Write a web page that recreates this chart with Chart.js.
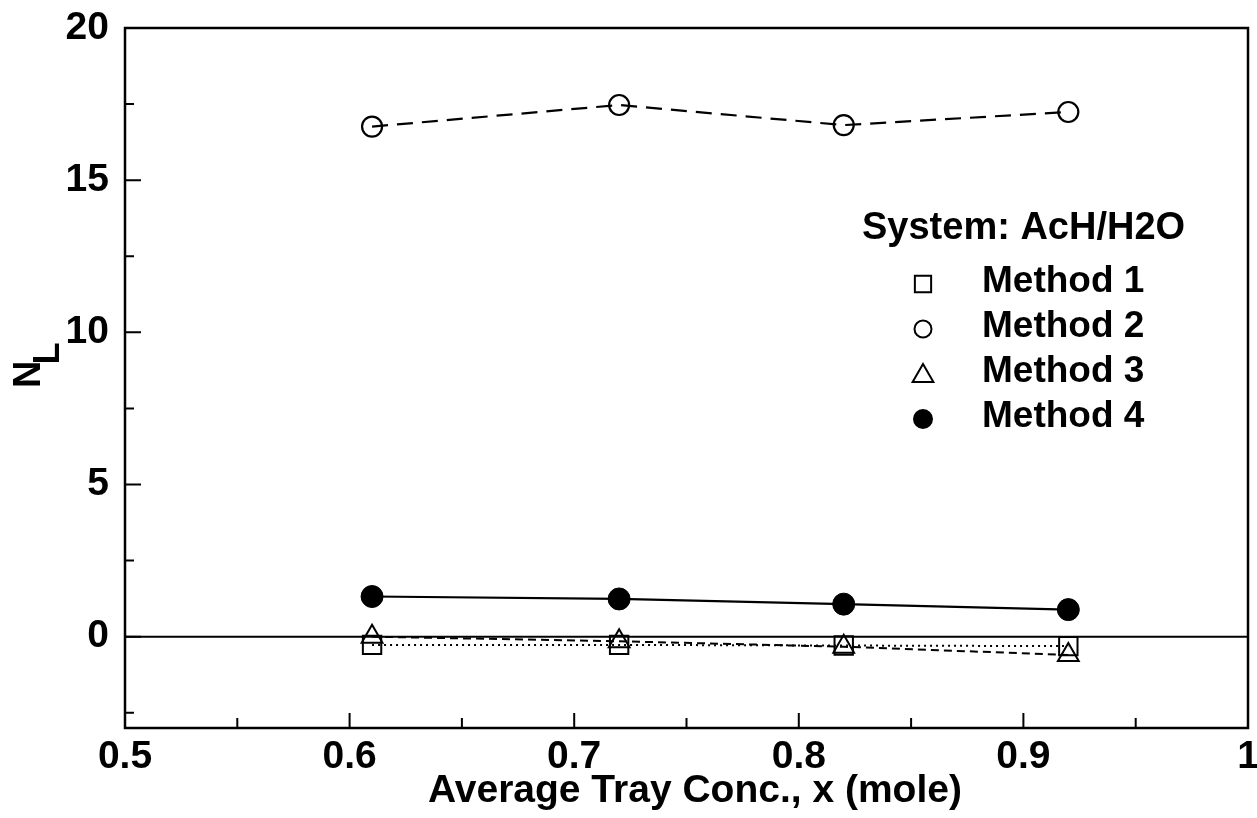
<!DOCTYPE html>
<html>
<head>
<meta charset="utf-8">
<script src="https://cdn.jsdelivr.net/npm/chart.js@4.4.1/dist/chart.umd.min.js"></script>
<style>
  html, body { margin: 0; padding: 0; background: #fff; }
  #wrap { width: 1257px; height: 818px; position: relative; }
</style>
</head>
<body>
<div id="wrap"><canvas id="c" width="1257" height="818"></canvas></div>
<script>
// ---- data ----
const xValues = [0.61, 0.72, 0.82, 0.92];
const method1 = [-0.27, -0.27, -0.29, -0.31];
const method2 = [16.76, 17.47, 16.81, 17.24];
const method3 = [0.0, -0.15, -0.33, -0.6];
const method4 = [1.32, 1.24, 1.07, 0.89];
const seriesNames = ['Method 1', 'Method 2', 'Method 3', 'Method 4'];
const legendTitle = 'System: AcH/H2O';
const xTicks = [0.5, 0.6, 0.7, 0.8, 0.9, 1.0];
const xTickLabels = ['0.5', '0.6', '0.7', '0.8', '0.9', '1'];
const xMinorTicks = [0.55, 0.65, 0.75, 0.85, 0.95];
const yTicks = [0, 5, 10, 15, 20];
const yTickLabels = ['0', '5', '10', '15', '20'];
const yMinorTicks = [-2.5, 2.5, 7.5, 12.5, 17.5];
const xTitle = 'Average Tray Conc., x (mole)';
const yTitleMain = 'N';
const yTitleSub = 'L';

const FONT = '"Liberation Sans", Arial, Helvetica, sans-serif';
const pts = (ys) => xValues.map((x, i) => ({ x: x, y: ys[i] }));

const framePlugin = {
  id: 'frame',
  beforeDatasetsDraw(chart) {
    const ctx = chart.ctx, a = chart.chartArea;
    const xs = chart.scales.x, ys = chart.scales.y;
    ctx.save();
    ctx.strokeStyle = '#000';
    ctx.lineWidth = 2;
    ctx.beginPath();
    const y0 = ys.getPixelForValue(0);
    ctx.moveTo(a.left, y0); ctx.lineTo(a.right, y0);
    ctx.stroke();
    ctx.lineWidth = 2.5;
    ctx.strokeRect(a.left, a.top, a.right - a.left, a.bottom - a.top);
    ctx.lineWidth = 2;
    ctx.beginPath();
    xTicks.forEach(v => { const p = xs.getPixelForValue(v); ctx.moveTo(p, a.bottom); ctx.lineTo(p, a.bottom - 15); });
    xMinorTicks.forEach(v => { const p = xs.getPixelForValue(v); ctx.moveTo(p, a.bottom); ctx.lineTo(p, a.bottom - 10); });
    yTicks.forEach(v => { const p = ys.getPixelForValue(v); ctx.moveTo(a.left, p); ctx.lineTo(a.left + 16, p); });
    yMinorTicks.forEach(v => { const p = ys.getPixelForValue(v); ctx.moveTo(a.left, p); ctx.lineTo(a.left + 9, p); });
    ctx.stroke();
    ctx.restore();
  },
  afterDraw(chart) {
    const ctx = chart.ctx, a = chart.chartArea;
    ctx.save();
    ctx.fillStyle = '#000';
    // x title
    ctx.font = 'bold 39px ' + FONT;
    ctx.textAlign = 'center';
    ctx.textBaseline = 'middle';
    ctx.fillText(xTitle, 695, 791);
    // y title
    ctx.save();
    ctx.translate(30, 388);
    ctx.rotate(-Math.PI / 2);
    ctx.textAlign = 'left';
    ctx.textBaseline = 'middle';
    ctx.font = 'bold 38px ' + FONT;
    ctx.fillText(yTitleMain, 0, 0);
    const w = ctx.measureText(yTitleMain).width;
    ctx.font = 'bold 36px ' + FONT;
    ctx.fillText(yTitleSub, w - 4, 19);
    ctx.restore();
    // legend
    ctx.font = 'bold 38px ' + FONT;
    ctx.textAlign = 'left';
    ctx.textBaseline = 'middle';
    ctx.fillText(legendTitle, 862, 229);
    ctx.font = 'bold 37px ' + FONT;
    const rowY = [282, 327, 372, 417];
    const styles = [
      { pointStyle: 'rect', radius: 11.5, fill: false },
      { pointStyle: 'circle', radius: 8.5, fill: false },
      { pointStyle: 'triangle', radius: 12, fill: false },
      { pointStyle: 'circle', radius: 9, fill: true }
    ];
    seriesNames.forEach((name, i) => {
      const st = styles[i];
      ctx.save();
      ctx.strokeStyle = '#000';
      ctx.fillStyle = st.fill ? '#000' : 'rgba(0,0,0,0)';
      ctx.lineWidth = 2;
      Chart.helpers.drawPoint(ctx, { pointStyle: st.pointStyle, radius: st.radius, rotation: 0, borderWidth: 2 }, 923, rowY[i] + (st.pointStyle === 'triangle' ? 4 : 2));
      ctx.restore();
      ctx.fillStyle = '#000';
      ctx.fillText(name, 982, rowY[i]);
    });
    ctx.restore();
  }
};

new Chart(document.getElementById('c'), {
  type: 'line',
  data: {
    datasets: [
      {
        label: seriesNames[0], data: pts(method1),
        borderColor: '#000', borderWidth: 2, borderDash: [2, 4],
        pointStyle: 'rect', pointRadius: 13, pointBorderWidth: 2,
        pointBorderColor: '#000', pointBackgroundColor: 'rgba(0,0,0,0)', tension: 0
      },
      {
        label: seriesNames[1], data: pts(method2),
        borderColor: '#000', borderWidth: 2.2, borderDash: [16, 9],
        pointStyle: 'circle', pointRadius: 10, pointBorderWidth: 2.2,
        pointBorderColor: '#000', pointBackgroundColor: 'rgba(0,0,0,0)', tension: 0
      },
      {
        label: seriesNames[2], data: pts(method3),
        borderColor: '#000', borderWidth: 2, borderDash: [8, 5],
        pointStyle: 'triangle', pointRadius: 12, pointBorderWidth: 2,
        pointBorderColor: '#000', pointBackgroundColor: 'rgba(0,0,0,0)', tension: 0
      },
      {
        label: seriesNames[3], data: pts(method4),
        borderColor: '#000', borderWidth: 2.2,
        pointStyle: 'circle', pointRadius: 11, pointBorderWidth: 1,
        pointBorderColor: '#000', pointBackgroundColor: '#000', tension: 0
      }
    ]
  },
  options: {
    responsive: false,
    animation: false,
    devicePixelRatio: 1,
    layout: { autoPadding: false, padding: { left: 0, right: 9, top: 28, bottom: 0 } },
    plugins: { legend: { display: false }, tooltip: { enabled: false } },
    scales: {
      x: {
        type: 'linear', min: 0.5, max: 1.0,
        afterBuildTicks: (s) => { s.ticks = xTicks.map(v => ({ value: v })); },
        afterFit: (s) => { s.height = 90; s.paddingLeft = 0; s.paddingRight = 0; },
        grid: { display: false, drawTicks: false },
        border: { display: false },
        ticks: {
          color: '#000', padding: 6, maxRotation: 0, autoSkip: false,
          font: { family: FONT, size: 39, weight: 'bold' },
          callback: (v) => { const i = xTicks.findIndex(t => Math.abs(t - v) < 1e-9); return i >= 0 ? xTickLabels[i] : ''; }
        }
      },
      y: {
        type: 'linear', min: -3, max: 20,
        afterBuildTicks: (s) => { s.ticks = yTicks.map(v => ({ value: v })); },
        afterFit: (s) => { s.width = 125; s.paddingTop = 0; s.paddingBottom = 0; },
        grid: { display: false, drawTicks: false },
        border: { display: false },
        ticks: {
          color: '#000', padding: 16, autoSkip: false,
          font: { family: FONT, size: 39, weight: 'bold' },
          callback: (v) => { const i = yTicks.findIndex(t => Math.abs(t - v) < 1e-9); return i >= 0 ? yTickLabels[i] : ''; }
        }
      }
    }
  },
  plugins: [framePlugin]
});
</script>
</body>
</html>
